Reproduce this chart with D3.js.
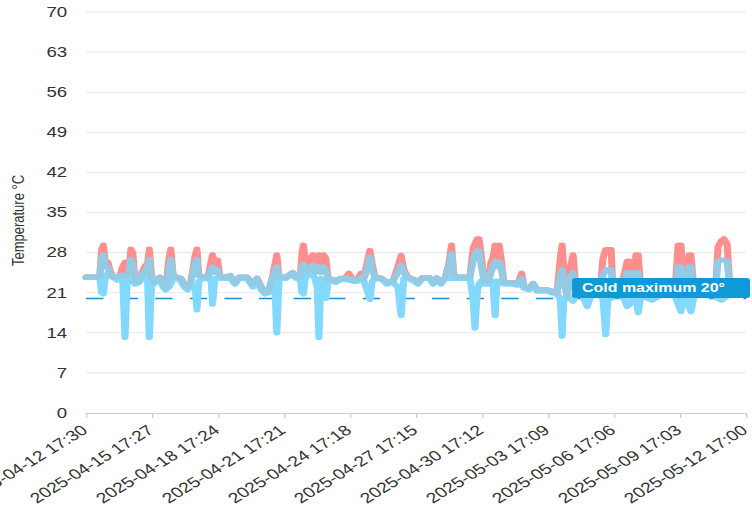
<!DOCTYPE html>
<html>
<head>
<meta charset="utf-8">
<script src="https://cdn.jsdelivr.net/npm/d3@7"></script>
<style>
  body { margin: 0; background: #fff; }
  svg { display: block; font-family: "Liberation Sans", Arial, sans-serif; }
</style>
</head>
<body>
<div id="chart"></div>
<script>
// readings, hours after the first label
const hours = [0,15,17,19,21,24,26,29.5,34,37,40,42.5,45,47.5,49,51,53.5,58,61,64.5,67,69,71.5,74,77.5,80.5,84,87,90.5,92.5,
  95,99,103.5,107,111,114.5,119,121,123,127.5,133,136.5,138,140.5,143.5,146,152.5,157,162.5,167,175.5,182,186.5,191,195,199.5,203,206,208,210.5,
  218,222.5,225.5,229,233.5,235.5,237,239.5,242,245.5,247.5,249.5,252,254,256,259,261.5,264,269.5,272.5,277,282.5,286.5,291,295.5,300,303,307.5,309.5,312,
  315,322.5,328,334.5,340,343.5,346.5,351,357.5,362,366.5,375,378.5,382.5,387,391.5,395.5,398.5,401,405.5,418.5,422,424,426.5,428.5,430.5,434,438.5,441.5,443.5,
  446,448,450.5,452.5,455.5,464.5,471,475,477.5,483,487.5,491.5,502.5,507,513.5,517,519,521,524.5,527.5,531,534,541,546.5,550.5,560.5,563.5,566.5,569,572.5,
  574.5,582,586.5,590,593,596.5,599.5,602,605,617,626,642,645.5,648.5,652,655.5,657.5,659.5,663,675,686,689,692.5,695.5,699,702,719.5];

const maxTemp = [23.7,23.7,28.5,29.3,26.5,26.3,25,23.7,23.7,24,25.5,26.3,24.5,26,28.6,28,23,23,24.5,25.7,25.8,28.6,24,22.8,23.3,23.7,22.5,21.8,27,28.6,
  24,23.7,23.5,22.5,22,23,27.5,28.6,24,23.8,23.7,26.5,27.6,25.5,26.7,23.7,23.7,24,22.7,23.7,23.7,22.5,23.5,22,21,21.5,23.5,26,27.6,23.7,
  23.7,24.2,24.5,23.7,23.7,28,29.3,26,25.5,27.2,27.6,25.5,27,27.6,25.5,27.6,27,23.3,23.3,23,23.5,23.5,24.4,23.2,23.3,24.4,23.5,27,28.4,26,
  23.7,23.5,22.8,23,25.5,27.5,25,23.7,23.3,22.8,23.6,23.6,22.7,23.6,22.7,23.6,26,29.3,24,23.7,23.7,28.7,29.5,30.4,30.4,28,23,22.9,26.3,27,
  29.3,26.5,29.3,27,22.8,22.7,22.7,24.4,22,21.8,22.6,21.5,21.5,21.3,21,27,29.3,25,20.3,25,27.6,22,21,21,21,21,27,28.5,28.5,28.5,
  21,21,24,26.5,26.5,21,27.6,27.6,21,21,21,21,29.3,29.3,22.5,22.5,27.6,27.6,21,21,21,29,30,30.4,29.5,21.5,21.5];

const avgTemp = [23.7,23.7,27,27.6,25.5,25.5,24.5,23.7,23.7,24,24,24,24,25,26.8,26,23,23,24,25,25,26.8,23.2,22.8,23.3,23.7,22.5,21.8,25,26.8,
  24,23.7,23.5,22.5,22,23,26,26.8,24,23.8,23.7,25,25.5,24.5,25,23.7,23.7,24,22.7,23.7,23.7,22.5,23.5,22,21,21.5,23.5,24.5,25.5,23.7,
  23.7,24.2,24.5,23.7,23.7,25.5,26,25,24.8,25.5,25.8,24.5,25,25.5,24.5,25.5,25,23.3,23.3,23,23.5,23.5,23.5,23.2,23.3,23.7,23.5,25.5,27.2,25,
  23.7,23.5,22.8,23,24.5,25.8,24.5,23.7,23.3,22.8,23.6,23.6,22.7,23.6,22.7,23.6,25.5,27.8,24,23.7,23.7,26.5,27.5,28.3,28.3,26,23,22.9,24.5,25.5,
  26.5,25.5,26.4,25.5,22.8,22.7,22.7,23.5,22,21.8,22.6,21.5,21.5,21.3,21,24,25,23,20.3,23.5,24.5,22,21,21,21,21,24,25,25,25,
  21,21,22.5,24.5,24.5,21,24.5,24.5,21,21,21,21,25.5,25.5,22.5,22.5,25.5,25.5,21,21,21,26.5,26.7,26.7,26.5,21.5,21.5];

const minTemp = [23.7,23.7,21,20.8,23.5,24.5,24,23.7,23.2,23.7,23.5,13.2,23.5,23,23,23,22.5,22.8,23.5,24,23.8,13.2,22.5,22.5,23,23.5,22,21.5,22,22.5,
  23.5,23.5,23,22,21.5,22.5,22,18,23,23.5,23.5,23,19,23.5,23.5,23.5,23.5,23.5,22.5,23.5,23.5,22,23.2,21.5,20.8,21,23,22,14,23.5,
  23.5,24,24,23.5,23.5,21,20.8,24,24.2,24,24,23.5,22,13.2,23.5,22,20,23,23,22.8,23.3,23.3,23.2,23,23,23.3,23,21,19.8,23,
  23.5,23.3,22.5,22.8,22,17,23.5,23.5,23,22.5,23.5,23.5,22.5,23.5,22.5,23.5,23.5,23.5,23.5,23.5,23.5,20,14.8,21,22.5,23,22.5,22.5,22.5,23,
  17,23,23,23,22.5,22.5,22.3,22.8,21.8,21.5,22.3,21.3,21.3,21,20.8,20,13.4,20,20,20,19.5,21,20.5,18.6,20.5,20.5,20,13.7,20,20,
  20.5,20.5,20,18.6,19,20.5,20,17.5,20.5,19.7,20.5,20.5,19,17.7,20.5,20.5,18.5,17.7,20.5,20.5,20.5,20,19.7,20,20.5,20.5,21];

const yTicks = [0, 7, 14, 21, 28, 35, 42, 49, 56, 63, 70];
const xTickLabels = ["2025-04-12 17:30", "2025-04-15 17:27", "2025-04-18 17:24", "2025-04-21 17:21",
  "2025-04-24 17:18", "2025-04-27 17:15", "2025-04-30 17:12", "2025-05-03 17:09",
  "2025-05-06 17:06", "2025-05-09 17:03", "2025-05-12 17:00"];
const coldMax = 20;
const coldLabel = "Cold maximum 20°";
const yTitle = "Temperature °C";

// the picture is drawn in a narrower box and stretched out to the window
const W = 565, H = 519;
const plotLeft = 64.6, plotRight = 560.5, plotTop = 12, plotBottom = 413;

const parse = d3.utcParse("%Y-%m-%d %H:%M");
const fmt = d3.utcFormat("%Y-%m-%d %H:%M");
const t0 = parse(xTickLabels[0]);
const tickDates = xTickLabels.map(parse);

const rows = hours.map((h, i) => ({
  t: new Date(t0.getTime() + h * 3600e3),
  max: maxTemp[i], avg: avgTemp[i], min: minTemp[i]
}));

const svg = d3.select("#chart").append("svg")
  .attr("width", 752).attr("height", 519)
  .attr("viewBox", `0 0 ${W} ${H}`)
  .attr("preserveAspectRatio", "none");

const x = d3.scaleUtc().domain([tickDates[0], tickDates[tickDates.length - 1]]).range([plotLeft, plotRight]);
const y = d3.scaleLinear().domain([0, 70]).range([plotBottom, plotTop]);

// grid
svg.append("g").selectAll("line")
  .data(yTicks.filter(d => d > 0))
  .join("line")
  .attr("x1", plotLeft).attr("x2", plotRight)
  .attr("y1", d => y(d)).attr("y2", d => y(d))
  .attr("stroke", "#e8e8e8").attr("stroke-width", 1);

// y labels
svg.append("g").selectAll("text")
  .data(yTicks)
  .join("text")
  .attr("x", 50.5).attr("y", d => y(d)).attr("dy", "0.35em")
  .attr("text-anchor", "end")
  .attr("font-size", 14).attr("fill", "#333")
  .text(d => d);

svg.append("text")
  .attr("transform", `translate(18.3,${(plotTop + plotBottom) / 2 + 8}) rotate(-90)`)
  .attr("text-anchor", "middle")
  .attr("font-size", 13).attr("fill", "#333")
  .text(yTitle);

// x axis
const xAxis = d3.axisBottom(x).tickValues(tickDates).tickFormat(fmt).tickSize(5).tickSizeOuter(0);
const gx = svg.append("g").attr("transform", `translate(0,${plotBottom})`).call(xAxis);
gx.select(".domain").attr("stroke", "#ccc");
gx.selectAll(".tick line").attr("stroke", "#ccc");
gx.selectAll(".tick text")
  .attr("x", 0).attr("y", 0).attr("dy", "0.35em")
  .attr("transform", "translate(-1.5,15) rotate(-39)")
  .style("text-anchor", "end")
  .attr("font-size", 14.5).attr("font-family", "Liberation Sans, Arial, sans-serif")
  .attr("fill", "#333");

// cold limit
svg.append("line")
  .attr("x1", plotLeft).attr("x2", plotRight)
  .attr("y1", y(coldMax)).attr("y2", y(coldMax))
  .attr("stroke", "#1a8fd0").attr("stroke-width", 1.5)
  .attr("stroke-dasharray", "13,13");

// series
const line = key => d3.line().x(d => x(d.t)).y(d => y(d[key]));
const series = [
  { key: "max", color: "#ff8f8f" },
  { key: "min", color: "#82d9fd" },
  { key: "avg", color: "#93cbe5" }
];
svg.append("g").selectAll("path")
  .data(series)
  .join("path")
  .attr("d", s => line(s.key)(rows))
  .attr("fill", "none")
  .attr("stroke", s => s.color)
  .attr("stroke-width", 5.3)
  .attr("stroke-linejoin", "round")
  .attr("stroke-linecap", "round");

// limit label
const lab = svg.append("g").attr("transform", `translate(429.8,${y(coldMax) - 20.5})`);
lab.append("rect").attr("width", 133.7).attr("height", 20).attr("rx", 2.5).attr("fill", "#0f99d6");
lab.append("text").attr("x", 7.5).attr("y", 14.5)
  .attr("font-size", 12).attr("font-weight", "bold").attr("fill", "#fff")
  .text(coldLabel);
</script>
</body>
</html>
